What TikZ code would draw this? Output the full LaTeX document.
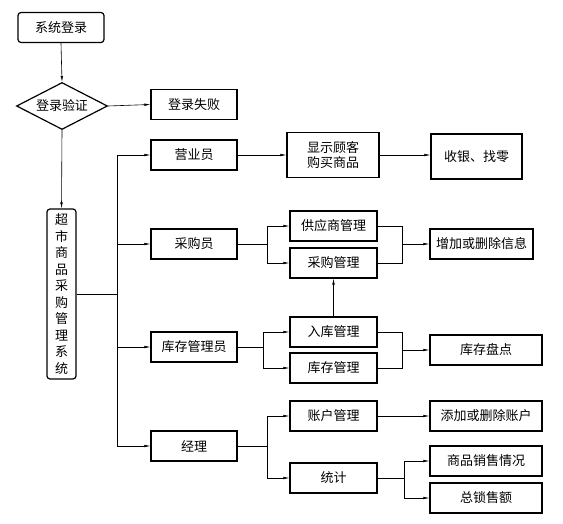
\documentclass[tikz,border=0pt]{standalone}
\usepackage{fontspec}
\setmainfont{Noto Sans CJK SC}
\usepackage{tikz}
\usetikzlibrary{shapes.geometric,arrows.meta}
\tikzstyle{box}=[draw,%
                 rectangle,%
                 line width    = 1.2pt,%
                 inner sep     = 1pt,%
                 minimum width = 86pt,%
                 minimum height= 30pt]
\tikzstyle{wide}=[box,minimum width=112pt]
\tikzstyle{roundbox}=[box,rounded corners=3pt]
\tikzstyle{check}=[draw,diamond,aspect=2,line width=1.2pt,inner sep=0pt,minimum width=91pt,minimum height=47pt]

\begin{document}
\begin{tikzpicture}[x=1pt,y=-1pt,line width=0.6pt,
    font=\fontsize{13pt}{15pt}\selectfont,
    >={Latex[length=6pt,width=2.6pt]}]
            \useasboundingbox (0,0) rectangle (563,524);
            \node[roundbox] (login) at (61,27.5) {系统登录};
            \node[check] (verify) at (62,106) {登录验证};
            \node[box] (fail) at (194,104.5) {登录失败};
            \node[roundbox,minimum width=29pt,minimum height=170pt,text width=13pt,align=center,
                  font=\fontsize{13pt}{16.5pt}\selectfont] (main) at (61.5,294)
                  {超\\市\\商\\品\\采\\购\\管\\理\\系\\统};
            \node[box] (sales) at (194,155) {营业员};
            \node[box] (purch) at (194,244) {采购员};
            \node[box] (stock) at (194,347) {库存管理员};
            \node[box] (mgr) at (194,446) {经理};
            \node[box,minimum width=92pt,minimum height=45pt,align=center,
                  font=\fontsize{13pt}{15.5pt}\selectfont] (show) at (333,155) {显示顾客\\购买商品};
            \node[box,minimum width=91pt,minimum height=45pt] (cash) at (476.5,156.5) {收银、找零};
            \node[box,minimum width=87pt] (supp) at (333.5,226) {供应商管理};
            \node[box,minimum width=87pt] (pmgt) at (333.5,263) {采购管理};
            \node[box,minimum width=103pt] (info) at (481.5,244) {增加或删除信息};
            \node[box,minimum width=87pt] (inst) at (333.5,332) {入库管理};
            \node[box,minimum width=87pt] (smgt) at (333.5,368) {库存管理};
            \node[wide] (count) at (486,350) {库存盘点};
            \node[box,minimum width=87pt] (acct) at (333.5,416) {账户管理};
            \node[wide] (addacct) at (486,416) {添加或删除账户};
            \node[box,minimum width=87pt] (stat) at (333.5,478) {统计};
            \node[wide] (sale) at (486,461) {商品销售情况};
            \node[wide] (total) at (486,498) {总锁售额};
            % branch points
            \coordinate (bus) at (117,0);
            \coordinate (pj) at (267,0);
            \coordinate (sj) at (263,0);
            \coordinate (mj) at (402,0);
            \coordinate (tj) at (404,0);
            \draw [->] (login.south) -- (verify.north);
            \draw [->] (verify.east) -- (fail.west);
            \draw [->] (verify.south) -- (main.north);
            \draw (main.east) -- (main.east -| bus);
            \draw (bus |- sales.west) -- (bus |- mgr.west);
            \draw [->] (bus |- sales.west) -- (sales.west);
            \draw [->] (bus |- purch.west) -- (purch.west);
            \draw [->] (bus |- stock.west) -- (stock.west);
            \draw [->] (bus |- mgr.west) -- (mgr.west);
            \draw [->] (sales.east) -- (show.west);
            \draw [->] (show.east) -- (show.east -| cash.west);
            \draw (purch.east) -- (purch.east -| pj);
            \draw (pj |- supp.west) -- (pj |- pmgt.west);
            \draw [->] (pj |- supp.west) -- (supp.west);
            \draw [->] (pj |- pmgt.west) -- (pmgt.west);
            \draw (supp.east) -- (supp.east -| mj) -- (pmgt.east -| mj) -- (pmgt.east);
            \draw [->] (mj |- info.west) -- (info.west);
            \draw [->] (inst.north) -- (pmgt.south);
            \draw (stock.east) -- (stock.east -| sj);
            \draw (sj |- inst.west) -- (sj |- smgt.west);
            \draw [->] (sj |- inst.west) -- (inst.west);
            \draw [->] (sj |- smgt.west) -- (smgt.west);
            \draw (inst.east) -- (inst.east -| mj) -- (smgt.east -| mj) -- (smgt.east);
            \draw [->] (mj |- count.west) -- (count.west);
            \draw (mgr.east) -- (mgr.east -| pj);
            \draw (pj |- acct.west) -- (pj |- stat.west);
            \draw [->] (pj |- acct.west) -- (acct.west);
            \draw [->] (pj |- stat.west) -- (stat.west);
            \draw [->] (acct.east) -- (addacct.west);
            \draw (stat.east) -- (stat.east -| tj);
            \draw (tj |- sale.west) -- (tj |- total.west);
            \draw [->] (tj |- sale.west) -- (sale.west);
            \draw [->] (tj |- total.west) -- (total.west);
  \end{tikzpicture}
\end{document}
